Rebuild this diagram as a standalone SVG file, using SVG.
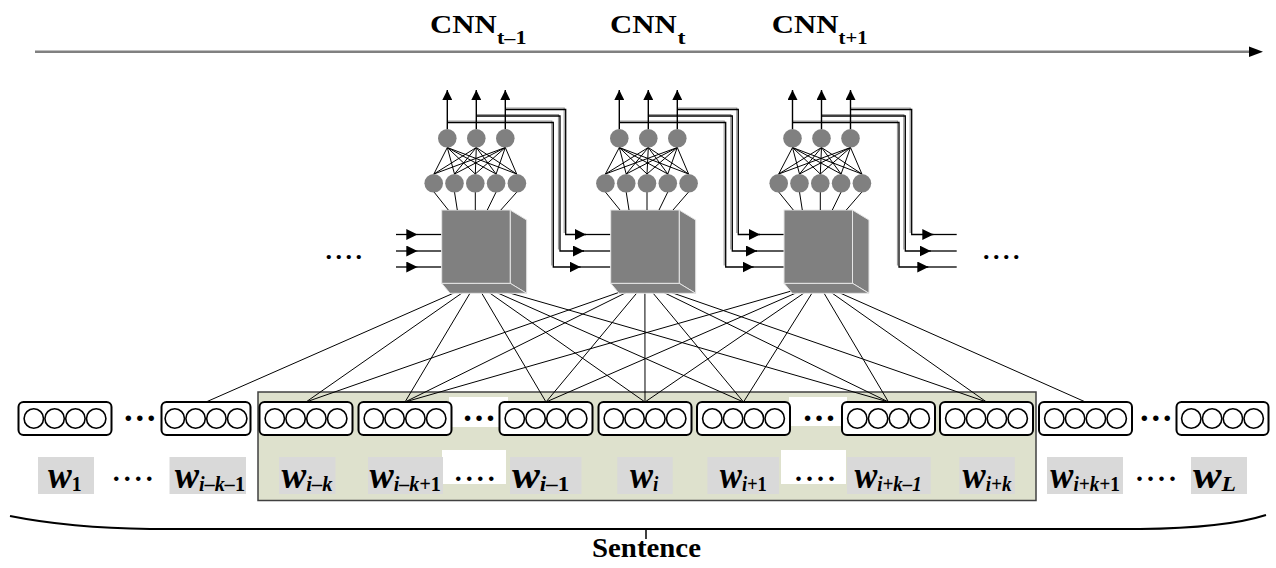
<svg xmlns="http://www.w3.org/2000/svg" width="1276" height="568" viewBox="0 0 1276 568">
<defs>
<style>
.t{font-family:"Liberation Serif","Times New Roman",serif;font-weight:bold;fill:#000}
.wi{font-family:"Liberation Serif","Times New Roman",serif;font-weight:bold;font-style:italic;fill:#000}
.up{font-style:normal}
.ln{stroke:#000;stroke-width:1;fill:none}
.face{fill:#808080;stroke:#e6e6e6;stroke-width:1}
.node{fill:#808080}
.out{stroke:#000;stroke-width:1.4;fill:none}
.fb{stroke:#000;stroke-width:1.3;fill:none}
.fbs{stroke:#9a9a9a;stroke-width:1.2;fill:none}
.wbox{fill:#fff;stroke:#000;stroke-width:2}
.cell{fill:#fff;stroke:#000;stroke-width:1.6}
.lab{fill:#d9d9d9}
.wire{stroke:#000;stroke-width:1;fill:none}
</style>
<marker id="ah" viewBox="0 0 11 11" refX="11" refY="5.5" markerWidth="11" markerHeight="11" markerUnits="userSpaceOnUse" orient="auto">
<path d="M0,0 L11,5.5 L0,11 Z" fill="#000"/>
</marker>
<marker id="ahv" viewBox="0 0 10 10" refX="10" refY="5" markerWidth="10" markerHeight="10" markerUnits="userSpaceOnUse" orient="auto">
<path d="M0,0 L10,5 L0,10 Z" fill="#000"/>
</marker>
<g id="cells">
<circle class="cell" cx="0" cy="0" r="9.7"/>
<circle class="cell" cx="20.8" cy="0" r="9.7"/>
<circle class="cell" cx="41.6" cy="0" r="9.7"/>
<circle class="cell" cx="62.4" cy="0" r="9.7"/>
</g>
</defs>

<rect width="1276" height="568" fill="#fff"/>

<!-- time axis -->
<g id="timeline">
<line x1="35" y1="51.7" x2="1252" y2="51.7" stroke="#808080" stroke-width="2.5"/>
<path d="M1263,51.7 L1249,46.5 L1249,57 Z" fill="#000"/>
<text class="t" x="430" y="32.5" font-size="26" textLength="66.7" lengthAdjust="spacingAndGlyphs">CNN</text>
<text class="t" x="497" y="43.5" font-size="19" textLength="29.5" lengthAdjust="spacingAndGlyphs">t–1</text>
<text class="t" x="610" y="32.5" font-size="26" textLength="66.7" lengthAdjust="spacingAndGlyphs">CNN</text>
<text class="t" x="677.5" y="43.5" font-size="19" textLength="8" lengthAdjust="spacingAndGlyphs">t</text>
<text class="t" x="771.7" y="32.5" font-size="26" textLength="66.7" lengthAdjust="spacingAndGlyphs">CNN</text>
<text class="t" x="838.5" y="43.5" font-size="19" textLength="29" lengthAdjust="spacingAndGlyphs">t+1</text>
</g>

<!-- highlighted window of the sentence -->
<g id="window">
<rect x="258" y="392" width="778" height="108.5" fill="#dee1cd" stroke="#404040" stroke-width="1.5"/>
<rect x="449" y="397" width="59" height="30" fill="#fff"/>
<rect x="789" y="397" width="58" height="29" fill="#fff"/>
<rect x="442" y="450" width="64" height="34" fill="#fff"/>
<rect x="781" y="450" width="65" height="34" fill="#fff"/>
</g>

<!-- connectors -->
<g id="connectors">
<!-- block bottoms to word vectors -->
<g class="wire">
<path d="M475.9,283.3 L206,402 M475.9,283.3 L306,402 M475.9,283.3 L405,402 M475.9,283.3 L546,402 M475.9,283.3 L645,402 M475.9,283.3 L743.5,402 M475.9,283.3 L888.5,402"/>
<path d="M644.9,283.3 L306,402 M644.9,283.3 L405,402 M644.9,283.3 L546,402 M644.9,283.3 L645,402 M644.9,283.3 L743.5,402 M644.9,283.3 L888.5,402 M644.9,283.3 L986.5,402"/>
<path d="M818.2,283.3 L405,402 M818.2,283.3 L546,402 M818.2,283.3 L645,402 M818.2,283.3 L743.5,402 M818.2,283.3 L888.5,402 M818.2,283.3 L986.5,402 M818.2,283.3 L1085.5,402"/>
</g>
<!-- inputs of the first block -->
<path class="fb" d="M396,234.5 H417.3" marker-end="url(#ah)"/>
<path class="fb" d="M417,234.5 H441.7"/>
<path class="fb" d="M396,251 H417.3" marker-end="url(#ah)"/>
<path class="fb" d="M417,251 H441.7"/>
<path class="fb" d="M396,267 H417.3" marker-end="url(#ah)"/>
<path class="fb" d="M417,267 H441.7"/>
<!-- recurrent outputs: block 1 to block 2 -->
<path class="fbs" d="M505.3,108 H564.2 V233"/>
<path class="fbs" d="M476.3,114.5 H558.5 V249.5"/>
<path class="fbs" d="M447.3,121 H551.8 V265.5"/>
<path class="fb" d="M505.3,109.5 H565.7 V234.5 H586" marker-end="url(#ah)"/>
<path class="fb" d="M585,234.5 H610.7"/>
<path class="fb" d="M476.3,116 H560 V251 H584" marker-end="url(#ah)"/>
<path class="fb" d="M583,251 H610.7"/>
<path class="fb" d="M447.3,122.5 H553.3 V267 H580.5" marker-end="url(#ah)"/>
<path class="fb" d="M579.5,267 H610.7"/>
<!-- block 2 to block 3 -->
<path class="fbs" d="M677.3,108 H736.8 V233"/>
<path class="fbs" d="M648.3,114.5 H730.8 V249.5"/>
<path class="fbs" d="M619.3,121 H724.2 V265.5"/>
<path class="fb" d="M677.3,109.5 H738.3 V234.5 H760" marker-end="url(#ah)"/>
<path class="fb" d="M759,234.5 H784"/>
<path class="fb" d="M648.3,116 H732.3 V251 H757" marker-end="url(#ah)"/>
<path class="fb" d="M756,251 H784"/>
<path class="fb" d="M619.3,122.5 H725.7 V267 H753.5" marker-end="url(#ah)"/>
<path class="fb" d="M752.5,267 H784"/>
<!-- block 3 onwards -->
<path class="fbs" d="M850.5,108 H910.2 V233"/>
<path class="fbs" d="M821.5,114.5 H903.8 V249.5"/>
<path class="fbs" d="M792.5,121 H897.5 V265.5"/>
<path class="fb" d="M850.5,109.5 H911.7 V234.5 H933.3" marker-end="url(#ah)"/>
<path class="fb" d="M932.3,234.5 H956.7"/>
<path class="fb" d="M821.5,116 H905.3 V251 H930.7" marker-end="url(#ah)"/>
<path class="fb" d="M929.7,251 H956.7"/>
<path class="fb" d="M792.5,122.5 H899 V267 H928.3" marker-end="url(#ah)"/>
<path class="fb" d="M927.3,267 H956.7"/>
</g>

<!-- CNN at step t-1 -->
<g id="cnn_prev">
<path class="face" d="M510.2,210 L526.7,220 L526.7,293.3 L510.2,283.3 Z"/>
<path class="face" d="M441.7,283.3 L510.2,283.3 L526.7,293.3 L450,293.3 Z"/>
<rect class="face" x="441.7" y="210" width="68.5" height="73.3"/>
<g class="ln">
<path d="M434,192 L448.3,210 M454.5,192 L457.3,210 M475.3,192 L475.3,210 M496.1,192 L487.3,210 M516.9,192 L500.8,210"/>
<path d="M447.3,147.5 L433.9,174 M447.3,147.5 L454.5,174 M447.3,147.5 L475.3,174 M447.3,147.5 L496.1,174 M447.3,147.5 L516.7,174"/>
<path d="M476.3,147.5 L433.9,174 M476.3,147.5 L454.5,174 M476.3,147.5 L475.3,174 M476.3,147.5 L496.1,174 M476.3,147.5 L516.7,174"/>
<path d="M505.3,147.5 L433.9,174 M505.3,147.5 L454.5,174 M505.3,147.5 L475.3,174 M505.3,147.5 L496.1,174 M505.3,147.5 L516.7,174"/>
</g>
<circle class="node" cx="433.7" cy="183.3" r="9.3"/>
<circle class="node" cx="454.5" cy="183.3" r="9.3"/>
<circle class="node" cx="475.3" cy="183.3" r="9.3"/>
<circle class="node" cx="496.1" cy="183.3" r="9.3"/>
<circle class="node" cx="516.9" cy="183.3" r="9.3"/>
<circle class="node" cx="447.3" cy="138.3" r="9.3"/>
<circle class="node" cx="476.3" cy="138.3" r="9.3"/>
<circle class="node" cx="505.3" cy="138.3" r="9.3"/>
<path class="out" d="M447.3,129 V90" marker-end="url(#ahv)"/>
<path class="out" d="M476.3,129 V90" marker-end="url(#ahv)"/>
<path class="out" d="M505.3,129 V90" marker-end="url(#ahv)"/>
</g>

<!-- CNN at step t -->
<g id="cnn_cur">
<path class="face" d="M679.2,210 L695.7,220 L695.7,293.3 L679.2,283.3 Z"/>
<path class="face" d="M610.7,283.3 L679.2,283.3 L695.7,293.3 L619,293.3 Z"/>
<rect class="face" x="610.7" y="210" width="68.5" height="73.3"/>
<g class="ln">
<path d="M605.4,192 L620,210 M626.2,192 L629,210 M647,192 L647,210 M667.8,192 L659,210 M688.6,192 L673,210"/>
<path d="M619.3,147.5 L605.4,174 M619.3,147.5 L626.2,174 M619.3,147.5 L647,174 M619.3,147.5 L667.8,174 M619.3,147.5 L688.6,174"/>
<path d="M648.3,147.5 L605.4,174 M648.3,147.5 L626.2,174 M648.3,147.5 L647,174 M648.3,147.5 L667.8,174 M648.3,147.5 L688.6,174"/>
<path d="M677.3,147.5 L605.4,174 M677.3,147.5 L626.2,174 M677.3,147.5 L647,174 M677.3,147.5 L667.8,174 M677.3,147.5 L688.6,174"/>
</g>
<circle class="node" cx="605.4" cy="183.3" r="9.3"/>
<circle class="node" cx="626.2" cy="183.3" r="9.3"/>
<circle class="node" cx="647" cy="183.3" r="9.3"/>
<circle class="node" cx="667.8" cy="183.3" r="9.3"/>
<circle class="node" cx="688.6" cy="183.3" r="9.3"/>
<circle class="node" cx="619.3" cy="138.3" r="9.3"/>
<circle class="node" cx="648.3" cy="138.3" r="9.3"/>
<circle class="node" cx="677.3" cy="138.3" r="9.3"/>
<path class="out" d="M619.3,129 V90" marker-end="url(#ahv)"/>
<path class="out" d="M648.3,129 V90" marker-end="url(#ahv)"/>
<path class="out" d="M677.3,129 V90" marker-end="url(#ahv)"/>
</g>

<!-- CNN at step t+1 -->
<g id="cnn_next">
<path class="face" d="M852.5,210 L869,220 L869,293.3 L852.5,283.3 Z"/>
<path class="face" d="M784,283.3 L852.5,283.3 L869,293.3 L792.3,293.3 Z"/>
<rect class="face" x="784" y="210" width="68.5" height="73.3"/>
<g class="ln">
<path d="M778.7,192 L793.3,210 M799.5,192 L802.3,210 M820.3,192 L820.3,210 M841.1,192 L832.3,210 M861.9,192 L846.3,210"/>
<path d="M792.5,147.5 L778.7,174 M792.5,147.5 L799.5,174 M792.5,147.5 L820.3,174 M792.5,147.5 L841.1,174 M792.5,147.5 L861.9,174"/>
<path d="M821.5,147.5 L778.7,174 M821.5,147.5 L799.5,174 M821.5,147.5 L820.3,174 M821.5,147.5 L841.1,174 M821.5,147.5 L861.9,174"/>
<path d="M850.5,147.5 L778.7,174 M850.5,147.5 L799.5,174 M850.5,147.5 L820.3,174 M850.5,147.5 L841.1,174 M850.5,147.5 L861.9,174"/>
</g>
<circle class="node" cx="778.7" cy="183.3" r="9.3"/>
<circle class="node" cx="799.5" cy="183.3" r="9.3"/>
<circle class="node" cx="820.3" cy="183.3" r="9.3"/>
<circle class="node" cx="841.1" cy="183.3" r="9.3"/>
<circle class="node" cx="861.9" cy="183.3" r="9.3"/>
<circle class="node" cx="792.5" cy="138.3" r="9.3"/>
<circle class="node" cx="821.5" cy="138.3" r="9.3"/>
<circle class="node" cx="850.5" cy="138.3" r="9.3"/>
<path class="out" d="M792.5,129 V90" marker-end="url(#ahv)"/>
<path class="out" d="M821.5,129 V90" marker-end="url(#ahv)"/>
<path class="out" d="M850.5,129 V90" marker-end="url(#ahv)"/>
</g>

<g id="more_steps">
<text class="t" x="325.5" y="258.5" font-size="26" letter-spacing="3.5">....</text>
<text class="t" x="983" y="258.5" font-size="26" letter-spacing="3.5">....</text>
</g>

<!-- word vectors -->
<g id="vec_1"><rect class="wbox" x="18.5" y="402" width="93" height="33" rx="5"/><use href="#cells" x="33.8" y="418.5"/></g>
<text class="t" x="122.7" y="421" font-size="34">…</text>
<g id="vec_ik1"><rect class="wbox" x="161.5" y="402" width="89" height="33" rx="5"/><use href="#cells" x="174.8" y="418.5"/></g>
<g id="vec_ik"><rect class="wbox" x="259.5" y="402" width="93" height="33" rx="5"/><use href="#cells" x="274.8" y="418.5"/></g>
<g id="vec_ik_1"><rect class="wbox" x="358.5" y="402" width="93" height="33" rx="5"/><use href="#cells" x="373.8" y="418.5"/></g>
<text class="t" x="462" y="421" font-size="34">…</text>
<g id="vec_i_1"><rect class="wbox" x="499.5" y="402" width="93" height="33" rx="5"/><use href="#cells" x="514.8" y="418.5"/></g>
<g id="vec_i"><rect class="wbox" x="598.5" y="402" width="93" height="33" rx="5"/><use href="#cells" x="613.8" y="418.5"/></g>
<g id="vec_i1"><rect class="wbox" x="697" y="402" width="93" height="33" rx="5"/><use href="#cells" x="712.3" y="418.5"/></g>
<text class="t" x="802" y="421" font-size="34">…</text>
<g id="vec_ik_1b"><rect class="wbox" x="842" y="402" width="93" height="33" rx="5"/><use href="#cells" x="857.3" y="418.5"/></g>
<g id="vec_ikb"><rect class="wbox" x="940" y="402" width="93" height="33" rx="5"/><use href="#cells" x="955.3" y="418.5"/></g>
<g id="vec_ik1b"><rect class="wbox" x="1039" y="402" width="93" height="33" rx="5"/><use href="#cells" x="1054.3" y="418.5"/></g>
<text class="t" x="1138.7" y="421" font-size="34">…</text>
<g id="vec_L"><rect class="wbox" x="1176.5" y="402" width="92" height="33" rx="5"/><use href="#cells" x="1191.3" y="418.5"/></g>

<!-- word labels -->
<g id="words">
<rect class="lab" x="38" y="457" width="56" height="37"/>
<text class="wi" x="48" y="488.4" font-size="38" textLength="33.6" lengthAdjust="spacingAndGlyphs">w<tspan class="up" font-size="21" dy="2.5">1</tspan></text>
<text class="t" x="112.7" y="480.5" font-size="28" letter-spacing="4">....</text>
<rect class="lab" x="169.5" y="457" width="76.5" height="37"/>
<text class="wi" x="174.7" y="488.4" font-size="38" textLength="70.3" lengthAdjust="spacingAndGlyphs">w<tspan font-size="21" dy="2.5">i–k–</tspan><tspan class="up" font-size="21">1</tspan></text>
<rect class="lab" x="279" y="457" width="56.5" height="37"/>
<text class="wi" x="281.6" y="488.4" font-size="38" textLength="51" lengthAdjust="spacingAndGlyphs">w<tspan font-size="21" dy="2.5">i–k</tspan></text>
<rect class="lab" x="368" y="457" width="75" height="37"/>
<text class="wi" x="369.4" y="488.4" font-size="38" textLength="71.4" lengthAdjust="spacingAndGlyphs">w<tspan font-size="21" dy="2.5">i–k+</tspan><tspan class="up" font-size="21">1</tspan></text>
<text class="t" x="454.7" y="480.5" font-size="28" letter-spacing="4">....</text>
<rect class="lab" x="510" y="457" width="71.5" height="37"/>
<text class="wi" x="512" y="488.4" font-size="38" textLength="57.4" lengthAdjust="spacingAndGlyphs">w<tspan font-size="21" dy="2.5">i–</tspan><tspan class="up" font-size="21">1</tspan></text>
<rect class="lab" x="617.3" y="457" width="55.4" height="37"/>
<text class="wi" x="630" y="488.4" font-size="38" textLength="28.3" lengthAdjust="spacingAndGlyphs">w<tspan font-size="21" dy="2.5">i</tspan></text>
<rect class="lab" x="707.4" y="457" width="71.6" height="37"/>
<text class="wi" x="719.7" y="488.4" font-size="38" textLength="47" lengthAdjust="spacingAndGlyphs">w<tspan font-size="21" dy="2.5">i+</tspan><tspan class="up" font-size="21">1</tspan></text>
<text class="t" x="795" y="480.5" font-size="28" letter-spacing="4">....</text>
<rect class="lab" x="847" y="457" width="83.7" height="37"/>
<text class="wi" x="854.4" y="488.4" font-size="38" textLength="67.3" lengthAdjust="spacingAndGlyphs">w<tspan font-size="21" dy="2.5">i+k–1</tspan></text>
<rect class="lab" x="959.3" y="457" width="55.5" height="37"/>
<text class="wi" x="962.5" y="488.4" font-size="38" textLength="49" lengthAdjust="spacingAndGlyphs">w<tspan font-size="21" dy="2.5">i+k</tspan></text>
<rect class="lab" x="1047" y="457" width="76" height="37"/>
<text class="wi" x="1050.3" y="488.4" font-size="38" textLength="69.4" lengthAdjust="spacingAndGlyphs">w<tspan font-size="21" dy="2.5">i+k+</tspan><tspan class="up" font-size="21">1</tspan></text>
<text class="t" x="1136" y="480.5" font-size="28" letter-spacing="4">....</text>
<rect class="lab" x="1191" y="457" width="56" height="37"/>
<text class="wi" x="1193" y="488.4" font-size="38" textLength="43" lengthAdjust="spacingAndGlyphs">w<tspan font-size="21" dy="2.5">L</tspan></text>
</g>

<!-- sentence brace -->
<g id="sentence">
<path d="M10,516 C60,526 110,528.5 150,529 L1140,529 C1190,528.5 1235,525 1266,515" fill="none" stroke="#000" stroke-width="2"/>
<line x1="646" y1="529" x2="646" y2="539" stroke="#000" stroke-width="1.5"/>
<text class="t" x="592" y="557" font-size="27" textLength="109" lengthAdjust="spacingAndGlyphs">Sentence</text>
</g>
</svg>
